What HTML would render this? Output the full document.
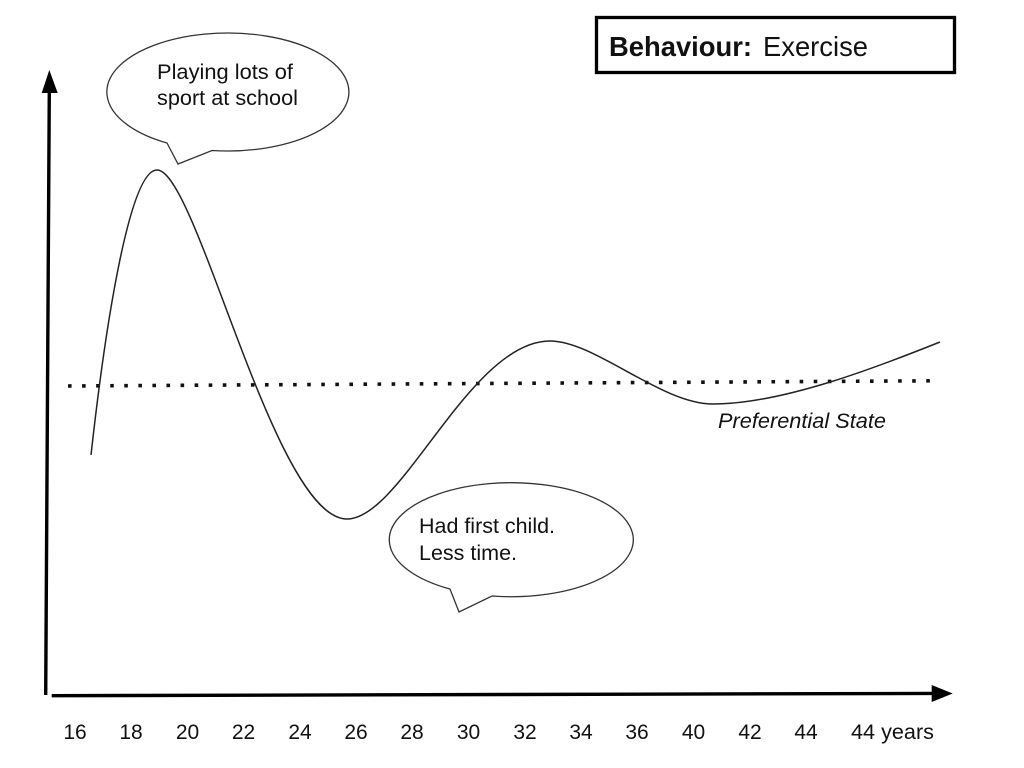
<!DOCTYPE html>
<html>
<head>
<meta charset="utf-8">
<style>
  html, body { margin: 0; padding: 0; background: #ffffff; }
  svg { display: block; }
  text { font-family: "Liberation Sans", Arial, sans-serif; fill: #111; }
</style>
</head>
<body>
<svg width="1024" height="768" viewBox="0 0 1024 768" xmlns="http://www.w3.org/2000/svg">
  <rect x="0" y="0" width="1024" height="768" fill="#ffffff"/>

  <!-- Title box -->
  <rect x="596.5" y="17.5" width="358" height="55" fill="none" stroke="#000" stroke-width="3.3"/>
  <text x="609" y="56" font-size="27.5" font-weight="bold" textLength="143" lengthAdjust="spacingAndGlyphs">Behaviour:</text>
  <text x="763" y="56" font-size="27.5" textLength="105" lengthAdjust="spacingAndGlyphs">Exercise</text>

  <!-- Y axis -->
  <line x1="49.3" y1="90" x2="45.7" y2="695" stroke="#000" stroke-width="3.4"/>
  <polygon points="49.3,70 41.7,93 57.7,93" fill="#000"/>

  <!-- X axis -->
  <line x1="51.7" y1="695.7" x2="934" y2="693.4" stroke="#000" stroke-width="3.4"/>
  <polygon points="952.7,693.5 931.7,685 931.7,702" fill="#000"/>

  <!-- Preferential state dotted line -->
  <line x1="68" y1="386" x2="931" y2="380.8" stroke="#111" stroke-width="3.6" stroke-dasharray="3.6 10.47"/>

  <!-- Curve -->
  <path fill="none" stroke="#222" stroke-width="1.5" d="
    M 91 455
    C 106 320, 130 170, 157 170
    C 197 170, 274 519, 347 519
    C 402 519, 470 341, 550 341
    C 595 341, 661 404, 713 404
    C 783 404, 880 366, 940 342"/>

  <!-- Speech bubble 1 -->
  <path fill="#fff" stroke="#333" stroke-width="1.3" d="M 212 150.5 A 121 59 0 1 0 167 143 L 178 164 Z"/>
  <text x="157" y="79" font-size="21" textLength="136" lengthAdjust="spacingAndGlyphs">Playing lots of</text>
  <text x="157" y="105" font-size="21" textLength="141" lengthAdjust="spacingAndGlyphs">sport at school</text>

  <!-- Speech bubble 2 -->
  <path fill="#fff" stroke="#333" stroke-width="1.3" d="M 492 596 A 122 57 0 1 0 450 589 L 459 612 Z"/>
  <text x="419" y="533" font-size="21" textLength="136" lengthAdjust="spacingAndGlyphs">Had first child.</text>
  <text x="419" y="560" font-size="21" textLength="98" lengthAdjust="spacingAndGlyphs">Less time.</text>

  <!-- Preferential State label -->
  <text x="718" y="428" font-size="21" font-style="italic" textLength="168" lengthAdjust="spacingAndGlyphs">Preferential State</text>

  <!-- X tick labels -->
  <g font-size="21" text-anchor="middle">
    <text x="75" y="739">16</text>
    <text x="131" y="739">18</text>
    <text x="187.5" y="739">20</text>
    <text x="243.5" y="739">22</text>
    <text x="300" y="739">24</text>
    <text x="356" y="739">26</text>
    <text x="412" y="739">28</text>
    <text x="468.5" y="739">30</text>
    <text x="525" y="739">32</text>
    <text x="581" y="739">34</text>
    <text x="637" y="739">36</text>
    <text x="693.5" y="739">40</text>
    <text x="750" y="739">42</text>
    <text x="806" y="739">44</text>
  </g>
  <text x="851" y="739" font-size="21" textLength="83" lengthAdjust="spacingAndGlyphs">44 years</text>
</svg>
</body>
</html>
